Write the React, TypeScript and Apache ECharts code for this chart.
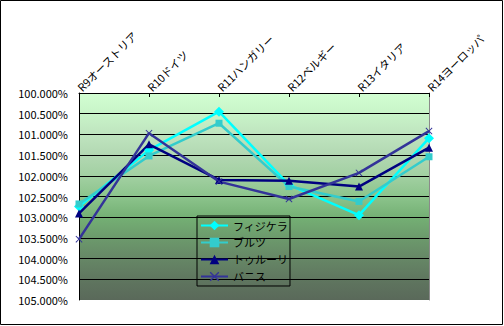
import React, { useEffect, useRef } from "react";
import * as echarts from "echarts";

const categories = ["R9オーストリア", "R10ドイツ", "R11ハンガリー", "R12ベルギー", "R13イタリア", "R14ヨーロッパ"];
const seriesNames = ["フィジケラ", "ブルツ", "トゥルーリ", "バニス"];
const fisichella = [102.74, 101.38, 100.45, 102.22, 102.95, 101.09];
const wurz = [102.68, 101.52, 100.73, 102.26, 102.62, 101.54];
const trulli = [102.91, 101.24, 102.10, 102.12, 102.26, 101.32];
const panis = [103.53, 100.97, 102.14, 102.56, 101.93, 100.92];
const yMin = 100;
const yMax = 105;
const yStep = 0.5;

const FONT = "'Noto Sans CJK JP', 'Noto Sans', sans-serif";
const X_MARK = "path://M0,1 L1,0 L5,4 L9,0 L10,1 L6,5 L10,9 L9,10 L5,6 L1,10 L0,9 L4,5 Z";

export default function App() {
  const ref = useRef<HTMLDivElement>(null);
  useEffect(() => {
    document.body.style.margin = "0";
    if (!ref.current) return;
    const chart = echarts.init(ref.current, undefined, { renderer: "svg" });
    const mk = (name: string, data: number[], color: string, symbol: string, size: number) => ({
      name,
      type: "line",
      data,
      symbol,
      symbolSize: size,
      showSymbol: true,
      lineStyle: { color, width: 2.5 },
      itemStyle: { color, borderColor: color, borderWidth: 0 },
      emphasis: { disabled: true },
    });
    const splitColors: string[] = [];
    for (let v = yMin; v < yMax - 1e-9; v += yStep) splitColors.push("#000");
    splitColors.push("rgba(0,0,0,0)");
    chart.setOption({
      animation: false,
      textStyle: { fontFamily: FONT },
      grid: {
        left: 79,
        top: 93,
        right: 75,
        bottom: 26,
        show: true,
        borderWidth: 0,
        backgroundColor: new echarts.graphic.LinearGradient(0, 0, 0, 1, [
          { offset: 0, color: "#d2fed2" },
          { offset: 0.1, color: "#c8f4c8" },
          { offset: 0.2, color: "#bfe4bf" },
          { offset: 0.3, color: "#b2d8b2" },
          { offset: 0.4, color: "#a2d0a2" },
          { offset: 0.5, color: "#8cc48c" },
          { offset: 0.6, color: "#74b074" },
          { offset: 0.7, color: "#6c9a6c" },
          { offset: 0.8, color: "#668766" },
          { offset: 0.9, color: "#5f765f" },
          { offset: 1, color: "#5a695a" },
        ]),
      },
      xAxis: {
        type: "category",
        data: categories,
        position: "top",
        boundaryGap: false,
        axisLine: { show: true, lineStyle: { color: "#000", width: 1 } },
        axisTick: { show: true, inside: true, length: 4, lineStyle: { color: "#000" } },
        axisLabel: {
          rotate: -45,
          margin: 4,
          color: "#000",
          fontSize: 11,
          fontFamily: FONT,
          interval: 0,
        },
        splitLine: { show: false },
      },
      yAxis: [
        {
          type: "value",
          inverse: true,
          min: yMin,
          max: yMax,
          interval: yStep,
          axisLine: { show: true, lineStyle: { color: "#000", width: 1 } },
          axisTick: { show: false },
          axisLabel: {
            color: "#000",
            fontSize: 11,
            fontFamily: FONT,
            margin: 11,
            formatter: (v: number) => v.toFixed(3) + "%",
          },
          splitLine: { show: true, lineStyle: { color: splitColors, width: 1 } },
        },
        {
          type: "value",
          inverse: true,
          position: "right",
          min: yMin,
          max: yMax,
          interval: yStep,
          axisLine: { show: true, lineStyle: { color: "#8a8a8a", width: 1 } },
          axisTick: { show: false },
          axisLabel: { show: false },
          splitLine: { show: false },
        },
      ],
      legend: {
        orient: "vertical",
        left: 197,
        top: 216,
        data: seriesNames,
        padding: [4, 2, 4, 3],
        itemWidth: 27,
        itemHeight: 12,
        itemGap: 6,
        borderColor: "#000",
        borderWidth: 1,
        backgroundColor: "transparent",
        textStyle: { color: "#000", fontSize: 11, fontFamily: FONT },
      },
      series: [
        mk(seriesNames[0], fisichella, "#00ffff", "diamond", 10),
        mk(seriesNames[1], wurz, "#33cccc", "rect", 7),
        mk(seriesNames[2], trulli, "#000080", "triangle", 8),
        mk(seriesNames[3], panis, "#333399", X_MARK, 7),
      ],
      graphic: [
        {
          type: "rect",
          shape: { x: 0.5, y: 0.5, width: 502, height: 324 },
          style: { fill: "none", stroke: "#000", lineWidth: 1 },
          silent: true,
        },
      ],
    });
    return () => chart.dispose();
  }, []);
  return <div ref={ref} style={{ width: 504, height: 326 }} />;
}
